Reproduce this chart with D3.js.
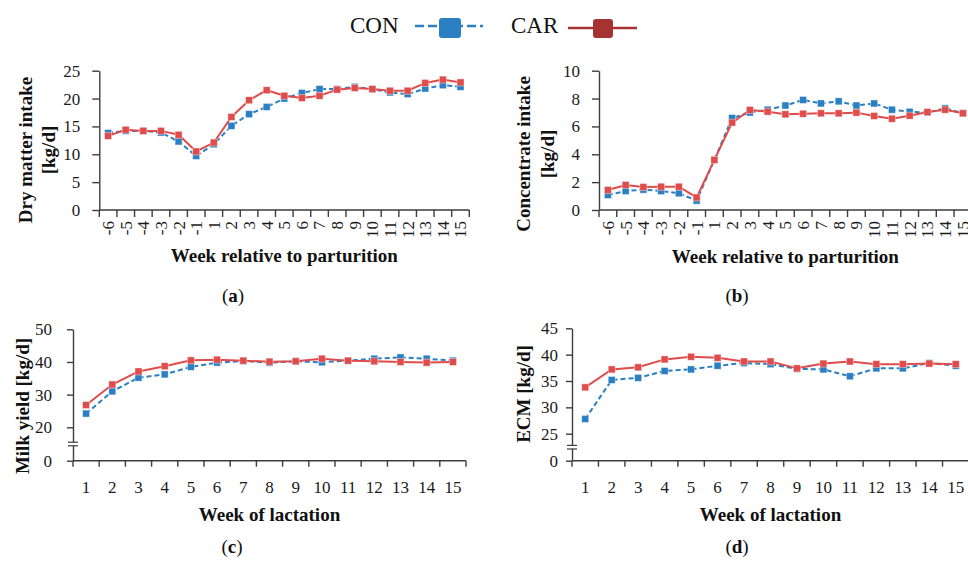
<!DOCTYPE html>
<html>
<head>
<meta charset="utf-8">
<script src="https://cdn.jsdelivr.net/npm/d3@7/dist/d3.min.js"></script>
<style>
  body { margin: 0; background: #fff; }
  svg, svg text { font-family: "Liberation Serif", "Times New Roman", serif; }
</style>
</head>
<body>
<script>
// categories
const weeksPre = ["-6","-5","-4","-3","-2","-1","1","2","3","4","5","6","7","8","9","10","11","12","13","14","15"];
const weeksLact = ["1","2","3","4","5","6","7","8","9","10","11","12","13","14","15"];

// (a) dry matter intake, kg/d
const dmiCON = [13.8,14.2,14.2,13.9,12.3,9.7,11.8,15.1,17.2,18.5,20.0,21.0,21.7,21.7,22.1,21.7,21.1,20.8,21.8,22.4,22.1];
const dmiCAR = [13.3,14.4,14.2,14.2,13.5,10.5,12.1,16.7,19.7,21.5,20.5,20.1,20.5,21.6,21.9,21.7,21.4,21.4,22.8,23.4,22.9];
// (b) concentrate intake, kg/d
const concCON = [1.08,1.36,1.46,1.36,1.2,0.67,3.6,6.6,7.0,7.2,7.5,7.9,7.65,7.8,7.5,7.65,7.2,7.05,7.0,7.3,6.95];
const concCAR = [1.44,1.8,1.65,1.67,1.67,0.9,3.6,6.27,7.18,7.06,6.87,6.91,6.94,6.94,6.99,6.75,6.55,6.77,7.03,7.2,6.94];
// (c) milk yield, kg/d
const milkCON = [24.2,31.0,35.2,36.2,38.5,39.8,40.3,39.8,40.2,39.9,40.4,41.0,41.4,41.0,40.4];
const milkCAR = [26.8,33.1,37.1,38.7,40.5,40.7,40.4,40.1,40.2,41.0,40.4,40.2,40.0,39.8,40.0];
// (d) ECM, kg/d
const ecmCON = [27.8,35.2,35.6,36.9,37.2,37.9,38.4,38.2,37.3,37.2,35.9,37.4,37.4,38.4,37.9];
const ecmCAR = [33.8,37.2,37.6,39.1,39.6,39.4,38.7,38.7,37.4,38.3,38.7,38.2,38.2,38.3,38.2];

// tick values
const dmiTicks = [0,5,10,15,20,25];
const concTicks = [0,2,4,6,8,10];
const milkTicks = [0,20,30,40,50];
const ecmTicks = [0,25,30,35,40,45];

const colCON = "#2b7fc3";
const colCAR = "#e04b4b";
const colCARLegend = "#a63232";
const axisCol = "#3d3d3d";
const serif = '"Liberation Serif", "Times New Roman", serif';

const svg = d3.select("body").append("svg")
  .attr("width", 968)
  .attr("height", 568);

const panels = [
  { cats: weeksPre, con: dmiCON, car: dmiCAR, ticks: dmiTicks,
    xr: [99.3, 469.3], yd: [0, 25], yr: [210, 70.7], rotate: true,
    tickSize: 7, tickPad: 12, xTickLen: 7,
    yTitle: ["Dry matter intake", "[kg/d]"], yTitleX: [25, 48], yTitleY: 150,
    xTitle: "Week relative to parturition", xTitleY: 262, tag: "(a)", tagX: 233, tagY: 302 },
  { cats: weeksPre, con: concCON, car: concCAR, ticks: concTicks,
    xr: [599, 971.8], yd: [0, 10], yr: [210, 70.7], rotate: true,
    tickSize: 7, tickPad: 12, xTickLen: 7,
    yTitle: ["Concentrate intake", "[kg/d]"], yTitleX: [523, 547], yTitleY: 154,
    xTitle: "Week relative to parturition", xTitleY: 263, tag: "(b)", tagX: 737, tagY: 302 },
  { cats: weeksLact, con: milkCON, car: milkCAR, ticks: milkTicks,
    xr: [73, 466], yd: [0, 20, 50], yr: [460.7, 427.3, 329.3], rotate: false, brk: true,
    tickSize: 6, tickPad: 15, xTickLen: 6,
    yTitle: ["Milk yield [kg/d]"], yTitleX: [22], yTitleY: 406,
    xTitle: "Week of lactation", xTitleY: 521, tag: "(c)", tagX: 232, tagY: 553 },
  { cats: weeksLact, con: ecmCON, car: ecmCAR, ticks: ecmTicks,
    xr: [572, 969], yd: [0, 25, 45], yr: [460.7, 433.7, 328.3], rotate: false, brk: true,
    tickSize: 6, tickPad: 8, xTickLen: 6,
    yTitle: ["ECM [kg/d]"], yTitleX: [523], yTitleY: 394,
    xTitle: "Week of lactation", xTitleY: 521, tag: "(d)", tagX: 737, tagY: 553 }
];

panels.forEach(p => {
  const x = d3.scaleBand().domain(p.cats).range(p.xr).padding(0);
  const y = d3.scaleLinear().domain(p.yd).range(p.yr);
  const y0 = p.yr[0];
  const g = svg.append("g");

  // y axis
  const yAxis = d3.axisLeft(y).tickValues(p.ticks).tickSize(p.tickSize)
    .tickSizeOuter(0).tickPadding(p.tickPad);
  const ya = g.append("g").attr("transform", `translate(${p.xr[0]},0)`).call(yAxis)
    .attr("font-family", null).attr("font-size", null);
  ya.select(".domain").attr("stroke", axisCol).attr("stroke-width", 1.4);
  ya.selectAll(".tick line").attr("stroke", axisCol).attr("stroke-width", 1.4);
  ya.selectAll(".tick text").style("font-family", serif).style("font-size", "17px")
    .attr("fill", "#1a1a1a");

  // x axis line + boundary ticks
  const xa = g.append("g");
  xa.append("line").attr("x1", p.xr[0]).attr("x2", p.xr[1]).attr("y1", y0).attr("y2", y0)
    .attr("stroke", axisCol).attr("stroke-width", 1.4);
  const bounds = p.cats.map(c => x(c)).concat([x(p.cats[p.cats.length - 1]) + x.bandwidth()]);
  xa.selectAll("line.bt").data(bounds).enter().append("line").attr("class", "bt")
    .attr("x1", d => d).attr("x2", d => d).attr("y1", y0).attr("y2", y0 + p.xTickLen)
    .attr("stroke", axisCol).attr("stroke-width", 1.4);
  const lab = xa.selectAll("g.lab").data(p.cats).enter().append("g").attr("class", "lab")
    .attr("transform", d => `translate(${x(d) + x.bandwidth() / 2},${y0})`);
  if (p.rotate) {
    lab.append("text").attr("transform", "rotate(-90)")
      .attr("x", -11).attr("dy", "0.35em").attr("text-anchor", "end")
      .style("font-family", serif).style("font-size", "17px").attr("fill", "#1a1a1a").text(d => d);
  } else {
    lab.append("text").attr("y", 32).attr("text-anchor", "middle")
      .style("font-family", serif).style("font-size", "17px").attr("fill", "#1a1a1a").text(d => d);
  }

  // axis break
  if (p.brk) {
    const by = (y(p.ticks[0]) + y(p.ticks[1])) / 2;
    const bx = p.xr[0];
    g.append("rect").attr("x", bx - 6).attr("y", by - 1.5).attr("width", 12).attr("height", 3).attr("fill", "#fff");
    [by - 1.8, by + 1.8].forEach(yy => {
      g.append("line").attr("x1", bx - 5).attr("x2", bx + 5).attr("y1", yy).attr("y2", yy)
        .attr("stroke", axisCol).attr("stroke-width", 1.2);
    });
  }

  // titles
  p.yTitle.forEach((t, i) => {
    g.append("text").attr("transform", `translate(${p.yTitleX[i]},${p.yTitleY}) rotate(-90)`)
      .attr("dy", "0.35em").attr("text-anchor", "middle").attr("font-weight", "bold")
      .style("font-size", "19px").attr("fill", "#111").text(t);
  });
  g.append("text").attr("x", (p.xr[0] + p.xr[1]) / 2).attr("y", p.xTitleY)
    .attr("text-anchor", "middle").attr("font-weight", "bold").style("font-size", "19px")
    .attr("fill", "#111").text(p.xTitle);
  g.append("text").attr("x", p.tagX).attr("y", p.tagY).attr("text-anchor", "middle")
    .style("font-size", "19px").attr("fill", "#111")
    .html(p.tag.replace(/[a-z]/, m => `<tspan font-weight="bold">${m}</tspan>`));

  // series
  const line = d3.line().x((d, i) => x(p.cats[i]) + x.bandwidth() / 2).y(d => y(d));
  const series = [
    { vals: p.con, col: colCON, dash: "5,3" },
    { vals: p.car, col: colCAR, dash: null }
  ];
  series.forEach(s => {
    g.append("path").datum(s.vals).attr("d", line).attr("fill", "none")
      .attr("stroke", s.col).attr("stroke-width", 2).attr("stroke-dasharray", s.dash);
    g.selectAll(null).data(s.vals).enter().append("rect")
      .attr("x", (d, i) => x(p.cats[i]) + x.bandwidth() / 2 - 3.5)
      .attr("y", d => y(d) - 3.5).attr("width", 7).attr("height", 7)
      .attr("fill", s.col).attr("stroke", "#fff").attr("stroke-opacity", 0.5).attr("stroke-width", 0.8);
  });
});

// legend
const leg = svg.append("g");
leg.append("text").attr("x", 350).attr("y", 33).style("font-size", "23px").attr("fill", "#111").text("CON");
leg.append("line").attr("x1", 415).attr("x2", 483).attr("y1", 26).attr("y2", 26)
  .attr("stroke", colCON).attr("stroke-width", 2.6).attr("stroke-dasharray", "9,4");
leg.append("rect").attr("x", 439).attr("y", 18).attr("width", 22).attr("height", 20).attr("rx", 3)
  .attr("fill", colCON);
leg.append("text").attr("x", 511).attr("y", 33).style("font-size", "23px").attr("fill", "#111").text("CAR");
leg.append("line").attr("x1", 568).attr("x2", 637).attr("y1", 28).attr("y2", 28)
  .attr("stroke", colCARLegend).attr("stroke-width", 2.6);
leg.append("rect").attr("x", 593).attr("y", 19).attr("width", 20).attr("height", 19).attr("rx", 3)
  .attr("fill", colCARLegend);
</script>
</body>
</html>
